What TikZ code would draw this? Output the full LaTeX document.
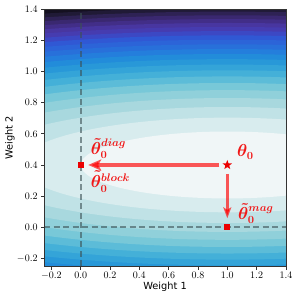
\documentclass[tikz,border=0pt]{standalone}
\usepackage{amsmath,amssymb}
\usepackage{fontspec}
\newfontfamily\labelsans{DejaVu Sans}
\usepackage{tikz}
\usetikzlibrary{arrows.meta,shapes.geometric}
\definecolor{ptred}{RGB}{235,0,0}
\definecolor{lblred}{RGB}{240,24,24}
\definecolor{lvtop}{RGB}{10,8,16}
\definecolor{refgray}{RGB}{60,80,84}

\begin{document}
\begin{tikzpicture}[x=146.6pt,y=155.8pt,
  axframe/.style={black!80,line width=0.8pt},
  axtick/.style={black!80,line width=0.8pt},
  ticklbl/.style={font=\fontsize{10}{12}\selectfont,inner sep=0pt},
  axlbl/.style={font=\labelsans\fontsize{9.8}{12}\selectfont,inner sep=0pt},
  refline/.style={refgray,opacity=0.6,line width=1.7pt,dash pattern=on 6pt off 3.5pt},
  sqpt/.style={rectangle,fill=ptred,inner sep=0pt,minimum size=6pt},
  starpt/.style={star,star points=5,star point ratio=2.4,fill=ptred,inner sep=0pt,minimum size=10pt},
  vec/.style={red,opacity=0.65},
  thlbl/.style={text=lblred,font=\boldmath\fontsize{16}{19}\selectfont,inner sep=0pt,anchor=west}]
  \useasboundingbox (-0.5505,-0.4602) rectangle (1.4891,1.4589);
  % filled contour bands of the loss
  \begin{scope}
    \clip (-0.25,-0.25) rectangle (1.4,1.4);
    \fill[lvtop] (-0.25,-0.25) rectangle (1.4,1.4);
    \foreach \i/\r/\g/\b in {23/20/16/32,22/32/26/54,21/46/34/84,20/58/40/112,19/66/46/136,18/72/54/160,17/70/60/176,16/60/72/196,15/48/88/212,14/44/100/216,13/40/112/218,12/36/126/220,11/34/140/218,10/40/152/216,9/52/164/216,8/68/176/216,7/92/188/216,6/120/200/216,5/144/208/218,4/168/216/222,3/192/226/230,2/216/236/238,1/240/246/247}
      {\definecolor{lvc}{RGB}{\r,\g,\b}\fill[lvc] (1,0.4) ellipse [x radius={sqrt(\i)},y radius={0.2148*sqrt(\i)}];}
  \end{scope}
  \draw[refline] (0,-0.25) -- (0,1.4);
  \draw[refline] (-0.25,0) -- (1.4,0);
  % axes
  \draw[axframe] (-0.25,-0.25) rectangle (1.4,1.4);
  \foreach \t/\lab [count=\k] in {-0.2/$-0.2$,0/$0.0$,0.2/$0.2$,0.4/$0.4$,0.6/$0.6$,0.8/$0.8$,1.0/$1.0$,1.2/$1.2$,1.4/$1.4$}
  {
    \draw[axtick] (\t,-0.25) -- ++(0,-3.5pt);
    \node[ticklbl,anchor=north] (xt\k) at ([yshift=-5.4pt]\t,-0.25) {\lab};
    \draw[axtick] (-0.25,\t) -- ++(-3.5pt,0);
    \node[ticklbl,anchor=east] (yt\k) at ([xshift=-6.3pt]-0.25,\t) {\lab};
  }
  \node[axlbl] (xlab) at (0.575,-0.383) {Weight 1};
  \node[axlbl,rotate=90] (ylab) at (-0.482,0.573) {Weight 2};
  % points and moves
  \node[starpt] (theta) at (1,0.4) {};
  \node[sqpt] (diag) at (0,0.4) {};
  \node[sqpt] (mag) at (1,0) {};
  \draw[vec,line width=3.6pt,-{Stealth[length=13pt,width=11pt,inset=3pt]},shorten <=8pt,shorten >=7.5pt] (theta.center) -- (diag.center);
  \draw[vec,line width=2.4pt,-{Stealth[length=11pt,width=8pt,inset=2.5pt]},shorten <=9pt,shorten >=9pt] (theta.center) -- (mag.center);
  \node[thlbl] (thetalbl) at (1.066,0.483) {$\theta_0$};
  \node[thlbl] (diaglbl) at (0.068,0.506) {$\tilde{\theta}_0^{diag}$};
  \node[thlbl] (blocklbl) at (0.068,0.292) {$\tilde{\theta}_0^{block}$};
  \node[thlbl] (maglbl) at (1.073,0.089) {$\tilde{\theta}_0^{mag}$};
\end{tikzpicture}
\end{document}
